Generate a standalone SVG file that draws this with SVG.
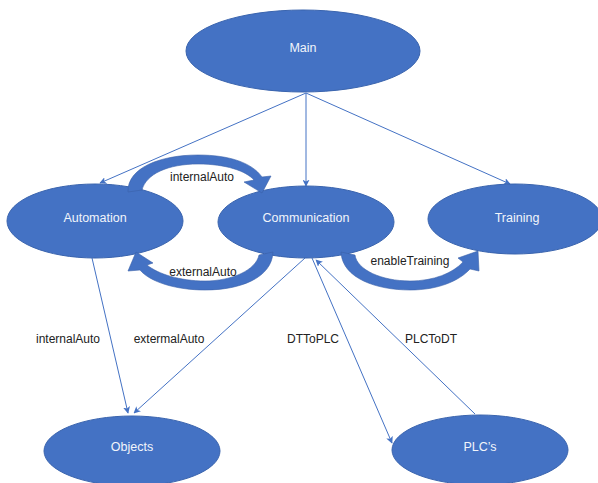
<svg xmlns="http://www.w3.org/2000/svg" width="598" height="483" viewBox="0 0 598 483">
<defs>
<style>
.node{fill:#4472C4;stroke:#3A64AE;stroke-width:1}
.nt{font-family:"Liberation Sans",Arial,sans-serif;font-size:12.5px;fill:#F2F5FB;text-anchor:middle}
.lbl{font-family:"Liberation Sans",Arial,sans-serif;font-size:12px;fill:#222;text-anchor:middle}
.edge{stroke:#4472C4;stroke-width:1;fill:none;marker-end:url(#ah)}
.band{fill:#4472C4;stroke:#3A62AA;stroke-width:0.6}
</style>
<marker id="ah" viewBox="0 0 10 10" refX="9" refY="5" markerWidth="7" markerHeight="7" orient="auto" markerUnits="userSpaceOnUse">
<path d="M0,0 L10,5 L0,10 L2.5,5 Z" fill="#4472C4"/>
</marker>
</defs>
<rect width="598" height="483" fill="#fff"/>
<g id="connectors">
<line class="edge" x1="306" y1="93" x2="100" y2="183"/>
<line class="edge" x1="306" y1="93" x2="306" y2="186"/>
<line class="edge" x1="306" y1="93" x2="510" y2="184"/>
<line class="edge" x1="92" y1="258" x2="128" y2="413"/>
<line class="edge" x1="305" y1="258" x2="134" y2="413"/>
<line class="edge" x1="312" y1="258" x2="392" y2="443"/>
<line class="edge" x1="475" y1="414" x2="316" y2="260"/>
</g>
<g id="main"><ellipse class="node" cx="303" cy="51" rx="117" ry="41"/><text class="nt" x="303" y="52">Main</text></g>
<g id="automation"><ellipse class="node" cx="95" cy="221" rx="88" ry="37"/><text class="nt" x="95" y="222">Automation</text></g>
<g id="communication"><ellipse class="node" cx="306" cy="222" rx="88" ry="36"/><text class="nt" x="306" y="222">Communication</text></g>
<g id="training"><ellipse class="node" cx="515" cy="219" rx="87" ry="35"/><text class="nt" x="517" y="222">Training</text></g>
<g id="objects"><ellipse class="node" cx="132" cy="451" rx="88" ry="35"/><text class="nt" x="132" y="451">Objects</text></g>
<g id="plcs"><ellipse class="node" cx="480" cy="450" rx="88" ry="35"/><text class="nt" x="480" y="451">PLC’s</text></g>
<g id="curved-arrows">
<path class="band" d="M128,192 C127,168 160,155 198,155 C230,155 252,163 262,177 L271,176 L262,193 L244,182 L254,180 C246,171 226,164 198,164 C168,164 146,174 142,190 Z"/>
<path class="band" d="M273,252 C272,278 240,290 205,290 C176,290 150,282 140,270 L128,271 L136,252 L153,263 L147,265 C158,274 180,281 205,281 C232,281 256,270 259,255 Z"/>
<path class="band" d="M341,252 C342,278 376,290 410,290 C438,290 459,281 470,269 L479,271 L478,251 L458,258 L463,262 C453,273 434,281 410,281 C382,281 357,270 355,255 Z"/>
</g>
<g id="labels">
<text class="lbl" x="202" y="181">internalAuto</text>
<text class="lbl" x="203" y="276">externalAuto</text>
<text class="lbl" x="410" y="265">enableTraining</text>
<text class="lbl" x="68" y="343">internalAuto</text>
<text class="lbl" x="169" y="343">extermalAuto</text>
<text class="lbl" x="313" y="343">DTToPLC</text>
<text class="lbl" x="431" y="343">PLCToDT</text>
</g>
</svg>
